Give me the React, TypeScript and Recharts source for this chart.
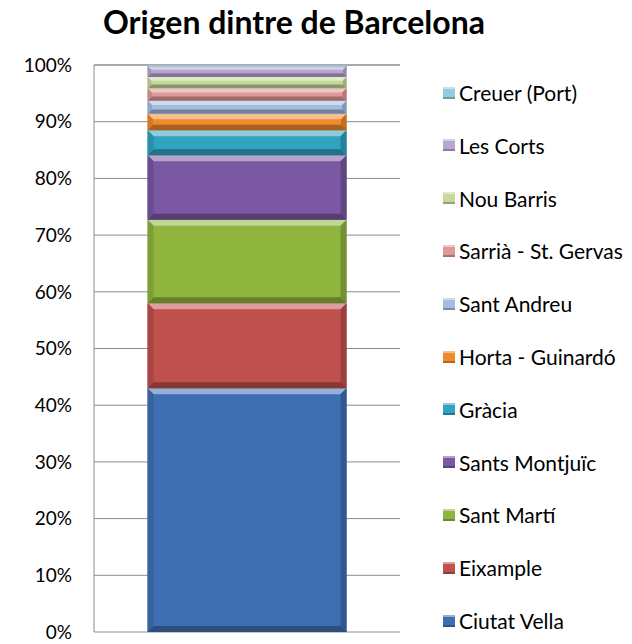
import { BarChart, Bar, XAxis, YAxis, CartesianGrid } from 'recharts';

// bottom to top of the stack
const districts = [
  'Ciutat Vella', 'Eixample', 'Sant Martí', 'Sants Montjuïc', 'Gràcia',
  'Horta - Guinardó', 'Sant Andreu', 'Sarrià - St. Gervas', 'Nou Barris',
  'Les Corts', 'Creuer (Port)',
];
const shares = [43, 15, 14.7, 11.4, 4.4, 2.9, 2.3, 2.2, 2.0, 1.9, 0.2];
const colors = [
  '#3f6fb3', '#c0504d', '#8fb53f', '#7a58a3', '#2fa3bf',
  '#f08a2c', '#a3bde0', '#df9a98', '#c6d99b', '#b9a6d3', '#93cddd',
];
const yTicks = [0, 10, 20, 30, 40, 50, 60, 70, 80, 90, 100];

const row: Record<string, number | string> = { name: '' };
districts.forEach((d, i) => { row[d] = shares[i]; });
const data = [row];

const font = 'Lato, "Open Sans", sans-serif';

function shade(hex: string, amt: number) {
  const n = parseInt(hex.slice(1), 16);
  const f = (c: number) => {
    const v = amt > 0 ? c + (255 - c) * amt : c * (1 + amt);
    return Math.round(Math.max(0, Math.min(255, v)));
  };
  const r = f((n >> 16) & 255), g = f((n >> 8) & 255), b = f(n & 255);
  return `rgb(${r},${g},${b})`;
}

// bevelled segment like the old Office chart style
function Bevel(props: any) {
  const { x, y, width, height, fill } = props;
  if (!height || height <= 0) return null;
  const b = Math.min(6, height / 3);
  return (
    <g>
      <rect x={x} y={y} width={width} height={height} fill={fill} />
      <polygon points={`${x},${y} ${x + width},${y} ${x + width - b},${y + b} ${x + b},${y + b}`} fill={shade(fill, 0.45)} />
      <polygon points={`${x},${y + height} ${x + width},${y + height} ${x + width - b},${y + height - b} ${x + b},${y + height - b}`} fill={shade(fill, -0.3)} />
      <polygon points={`${x},${y} ${x + b},${y + b} ${x + b},${y + height - b} ${x},${y + height}`} fill={shade(fill, -0.12)} />
      <polygon points={`${x + width},${y} ${x + width - b},${y + b} ${x + width - b},${y + height - b} ${x + width},${y + height}`} fill={shade(fill, -0.2)} />
    </g>
  );
}

export default function App() {
  const legendItems = districts.map((d, i) => ({ name: d, color: colors[i] })).reverse();
  return (
    <div style={{ position: 'absolute', left: 0, top: 0, width: 632, height: 644, background: '#fff', fontFamily: font }}>
      <div style={{ position: 'absolute', left: 0, width: 588, top: 2, textAlign: 'center', fontSize: 32, fontWeight: 700, color: '#000' }}>
        Origen dintre de Barcelona
      </div>
      <BarChart
        width={632}
        height={644}
        data={data}
        margin={{ top: 65, right: 232, bottom: 12, left: 0 }}
        barCategoryGap="17.5%"
      >
        <CartesianGrid vertical={false} stroke="#8c8c8c" />
        <XAxis dataKey="name" tick={false} tickLine={false} axisLine={{ stroke: '#8c8c8c' }} height={0} />
        <YAxis
          width={94}
          domain={[0, 100]}
          ticks={yTicks}
          tickFormatter={(v: number) => `${v}%`}
          tick={{ fill: '#000', fontSize: 19, fontFamily: font }}
          tickLine={false}
          tickSize={0}
          tickMargin={22}
          axisLine={{ stroke: '#8c8c8c' }}
        />
        {districts.map((d, i) => (
          <Bar key={d} dataKey={d} stackId="a" fill={colors[i]} shape={<Bevel />} isAnimationActive={false} />
        ))}
      </BarChart>
      {legendItems.map((it, i) => (
        <div key={it.name} style={{ position: 'absolute', left: 443, top: 80 + i * 52.8, display: 'flex', alignItems: 'center', fontSize: 21, color: '#000', whiteSpace: 'nowrap' }}>
          <span style={{ display: 'inline-block', width: 12, height: 12, marginRight: 4, background: it.color, boxShadow: 'inset 0 2px 0 rgba(255,255,255,0.45), inset 0 -2px 0 rgba(0,0,0,0.25)' }} />
          {it.name}
        </div>
      ))}
    </div>
  );
}
